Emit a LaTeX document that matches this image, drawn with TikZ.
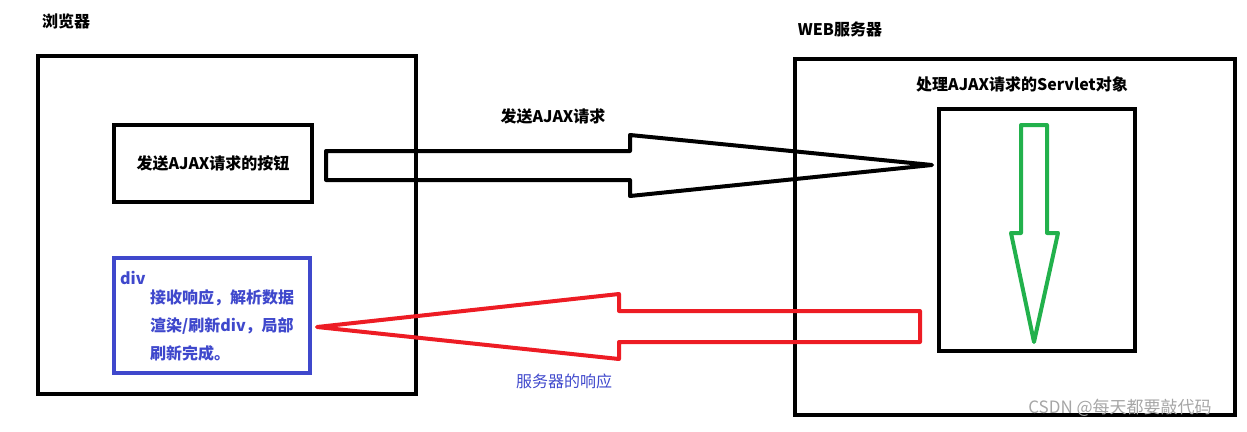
\documentclass[tikz,border=0pt]{standalone}
\usepackage{fontspec}
\setmainfont{Noto Sans CJK SC}
\usetikzlibrary{positioning}
\definecolor{PaintBlue}{HTML}{3F48CC}
\definecolor{PaintRed}{HTML}{ED1C24}
\definecolor{PaintGreen}{HTML}{22B14C}

\begin{document}
\begin{tikzpicture}[
  x=1pt, y=-1pt,
  frame/.style={draw=black, line width=4pt, minimum width=#1, inner sep=0pt},
  label/.style={font=\fontsize{16}{18}\selectfont\bfseries, inner sep=0pt},
  blockarrow/.style={line width=4pt, line join=round}
]
\useasboundingbox (0,0) rectangle (1247,431);
% browser side
\node[label] (browsertitle) at (66,21) {浏览器};
\node[frame=378pt, minimum height=338pt] (browser) at (227,225) {};
\node[frame=198pt, minimum height=77pt, label] (button) at (213,163.5) {发送AJAX请求的按钮};
\node[frame=196pt, minimum height=115pt, draw=PaintBlue] (div) at (212,315.5) {};
\node[label, text=PaintBlue, anchor=west] (divname) at (120,278) {div};
\node[label, text=PaintBlue, align=left, anchor=west,
  font=\fontsize{16}{28}\selectfont\bfseries] (divtext) at (150,325)
  {接收响应，解析数据\\渲染/刷新div，局部\\刷新完成。};
% server side
\node[label] (servertitle) at (840,29) {WEB服务器};
\node[frame=440pt, minimum height=356pt] (server) at (1015,237) {};
\node[label] (servlettitle) at (1022,84) {处理AJAX请求的Servlet对象};
\node[frame=196pt, minimum height=242pt] (servlet) at (1037,230) {};
% request / response
\node[label] (request) at (553,116) {发送AJAX请求};
\node[label, text=PaintBlue, font=\fontsize{16}{18}\selectfont] (response) at (564,381) {服务器的响应};
\draw[blockarrow] (326,151) -- (630,151) -- (630,135) -- (932,165)
  -- (630,196) -- (630,180) -- (326,180) -- cycle;
\draw[blockarrow, draw=PaintRed] (920,311) -- (619,311) -- (619,294) -- (317,327)
  -- (619,359) -- (619,342) -- (920,342) -- cycle;
\draw[blockarrow, draw=PaintGreen] (1021,125) -- (1047,125) -- (1047,233) -- (1058,233)
  -- (1034,342) -- (1011,233) -- (1021,233) -- cycle;
% watermark
\node[text=black!35, font=\fontsize{17}{18}\selectfont, inner sep=0pt] (mark) at (1120,408) {CSDN @每天都要敲代码};
\end{tikzpicture}
\end{document}
